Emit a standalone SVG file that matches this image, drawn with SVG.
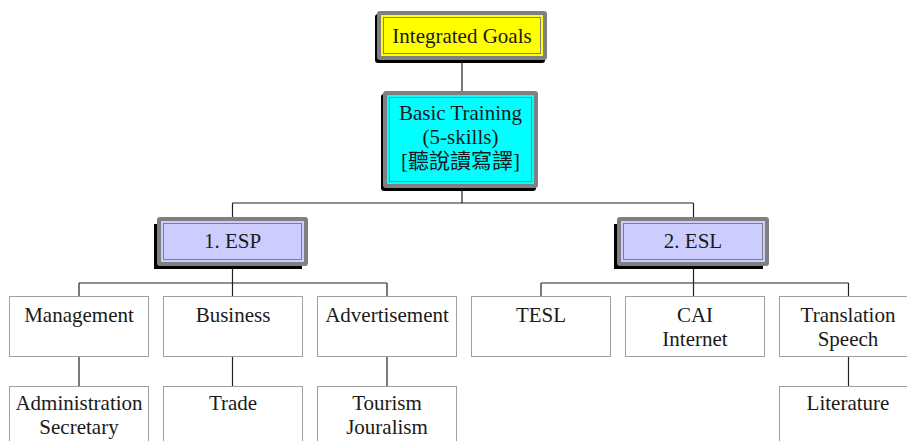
<svg xmlns="http://www.w3.org/2000/svg" width="907" height="441" viewBox="0 0 907 441">
<style>
text{font-family:"Liberation Serif","Noto Sans CJK TC",serif;font-size:21px;fill:#1a1a1a;text-anchor:middle}
.sh{fill:#000}
.fr{fill:#808080}
.il{fill:none;stroke:#808080;stroke-width:1}
.box{fill:#fff;stroke:#a0a0a0;stroke-width:1}
.con{fill:none;stroke:#222;stroke-width:1.2}
</style>
<rect width="907" height="441" fill="#fff"/>
<g id="connectors">
<path class="con" d="M462 60V91M462 188V203M232.5 203H693.5M232.5 203V217M693.5 203V217"/>
<path class="con" d="M232.5 266V296M79 283H387M79 283V296M387 283V296M79 356V386M232.5 356V386M387 356V386"/>
<path class="con" d="M693.5 266V296M541 283H848.5M541 283V296M848.5 283V296M848.5 356V386"/>
</g>
<g id="integrated-goals">
<rect class="sh" x="375" y="14" width="170" height="49" rx="3"/>
<rect class="fr" x="377" y="11" width="170" height="49" rx="3"/>
<rect x="381" y="15" width="162" height="41" fill="#ffff00"/>
<rect class="il" x="383.5" y="17.5" width="157" height="36" stroke="#808040"/>
<text x="462" y="43">Integrated Goals</text>
</g>
<g id="basic-training">
<rect class="sh" x="381" y="94" width="155" height="97" rx="3"/>
<rect class="fr" x="383" y="91" width="155" height="97" rx="3"/>
<rect x="387" y="95" width="147" height="89" fill="#00ffff"/>
<rect class="il" x="389.5" y="97.5" width="142" height="84" stroke="#408080"/>
<text x="460.5" y="120">Basic Training</text>
<text x="460.5" y="144">(5-skills)</text>
<text x="460.5" y="168">[聽說讀寫譯]</text>
</g>
<g id="esp">
<rect class="sh" x="154" y="224" width="148" height="45"/>
<rect class="fr" x="157" y="217" width="151" height="49" rx="3"/>
<rect x="161" y="221" width="143" height="41" fill="#ccccff"/>
<rect class="il" x="163.5" y="223.5" width="138" height="36"/>
<text x="232.5" y="248">1. ESP</text>
</g>
<g id="esl">
<rect class="sh" x="614" y="224" width="149" height="45"/>
<rect class="fr" x="617" y="217" width="152" height="49" rx="3"/>
<rect x="621" y="221" width="144" height="41" fill="#ccccff"/>
<rect class="il" x="623.5" y="223.5" width="139" height="36"/>
<text x="693" y="248">2. ESL</text>
</g>
<g id="management"><rect class="box" x="9.5" y="296.5" width="139" height="60"/><text x="79" y="322">Management</text></g>
<g id="business"><rect class="box" x="163.5" y="296.5" width="139" height="60"/><text x="233" y="322">Business</text></g>
<g id="advertisement"><rect class="box" x="317.5" y="296.5" width="139" height="60"/><text x="387" y="322">Advertisement</text></g>
<g id="tesl"><rect class="box" x="471.5" y="296.5" width="139" height="60"/><text x="541" y="322">TESL</text></g>
<g id="cai"><rect class="box" x="625.5" y="296.5" width="139" height="60"/><text x="695" y="322">CAI</text><text x="695" y="346">Internet</text></g>
<g id="translation"><rect class="box" x="779.5" y="296.5" width="139" height="60"/><text x="848" y="322">Translation</text><text x="848" y="346">Speech</text></g>
<g id="administration"><rect class="box" x="9.5" y="386.5" width="139" height="70"/><text x="79" y="410">Administration</text><text x="79" y="434">Secretary</text></g>
<g id="trade"><rect class="box" x="163.5" y="386.5" width="139" height="70"/><text x="233" y="410">Trade</text></g>
<g id="tourism"><rect class="box" x="317.5" y="386.5" width="139" height="70"/><text x="387" y="410">Tourism</text><text x="387" y="434">Jouralism</text></g>
<g id="literature"><rect class="box" x="779.5" y="386.5" width="139" height="70"/><text x="848" y="410">Literature</text></g>
</svg>
